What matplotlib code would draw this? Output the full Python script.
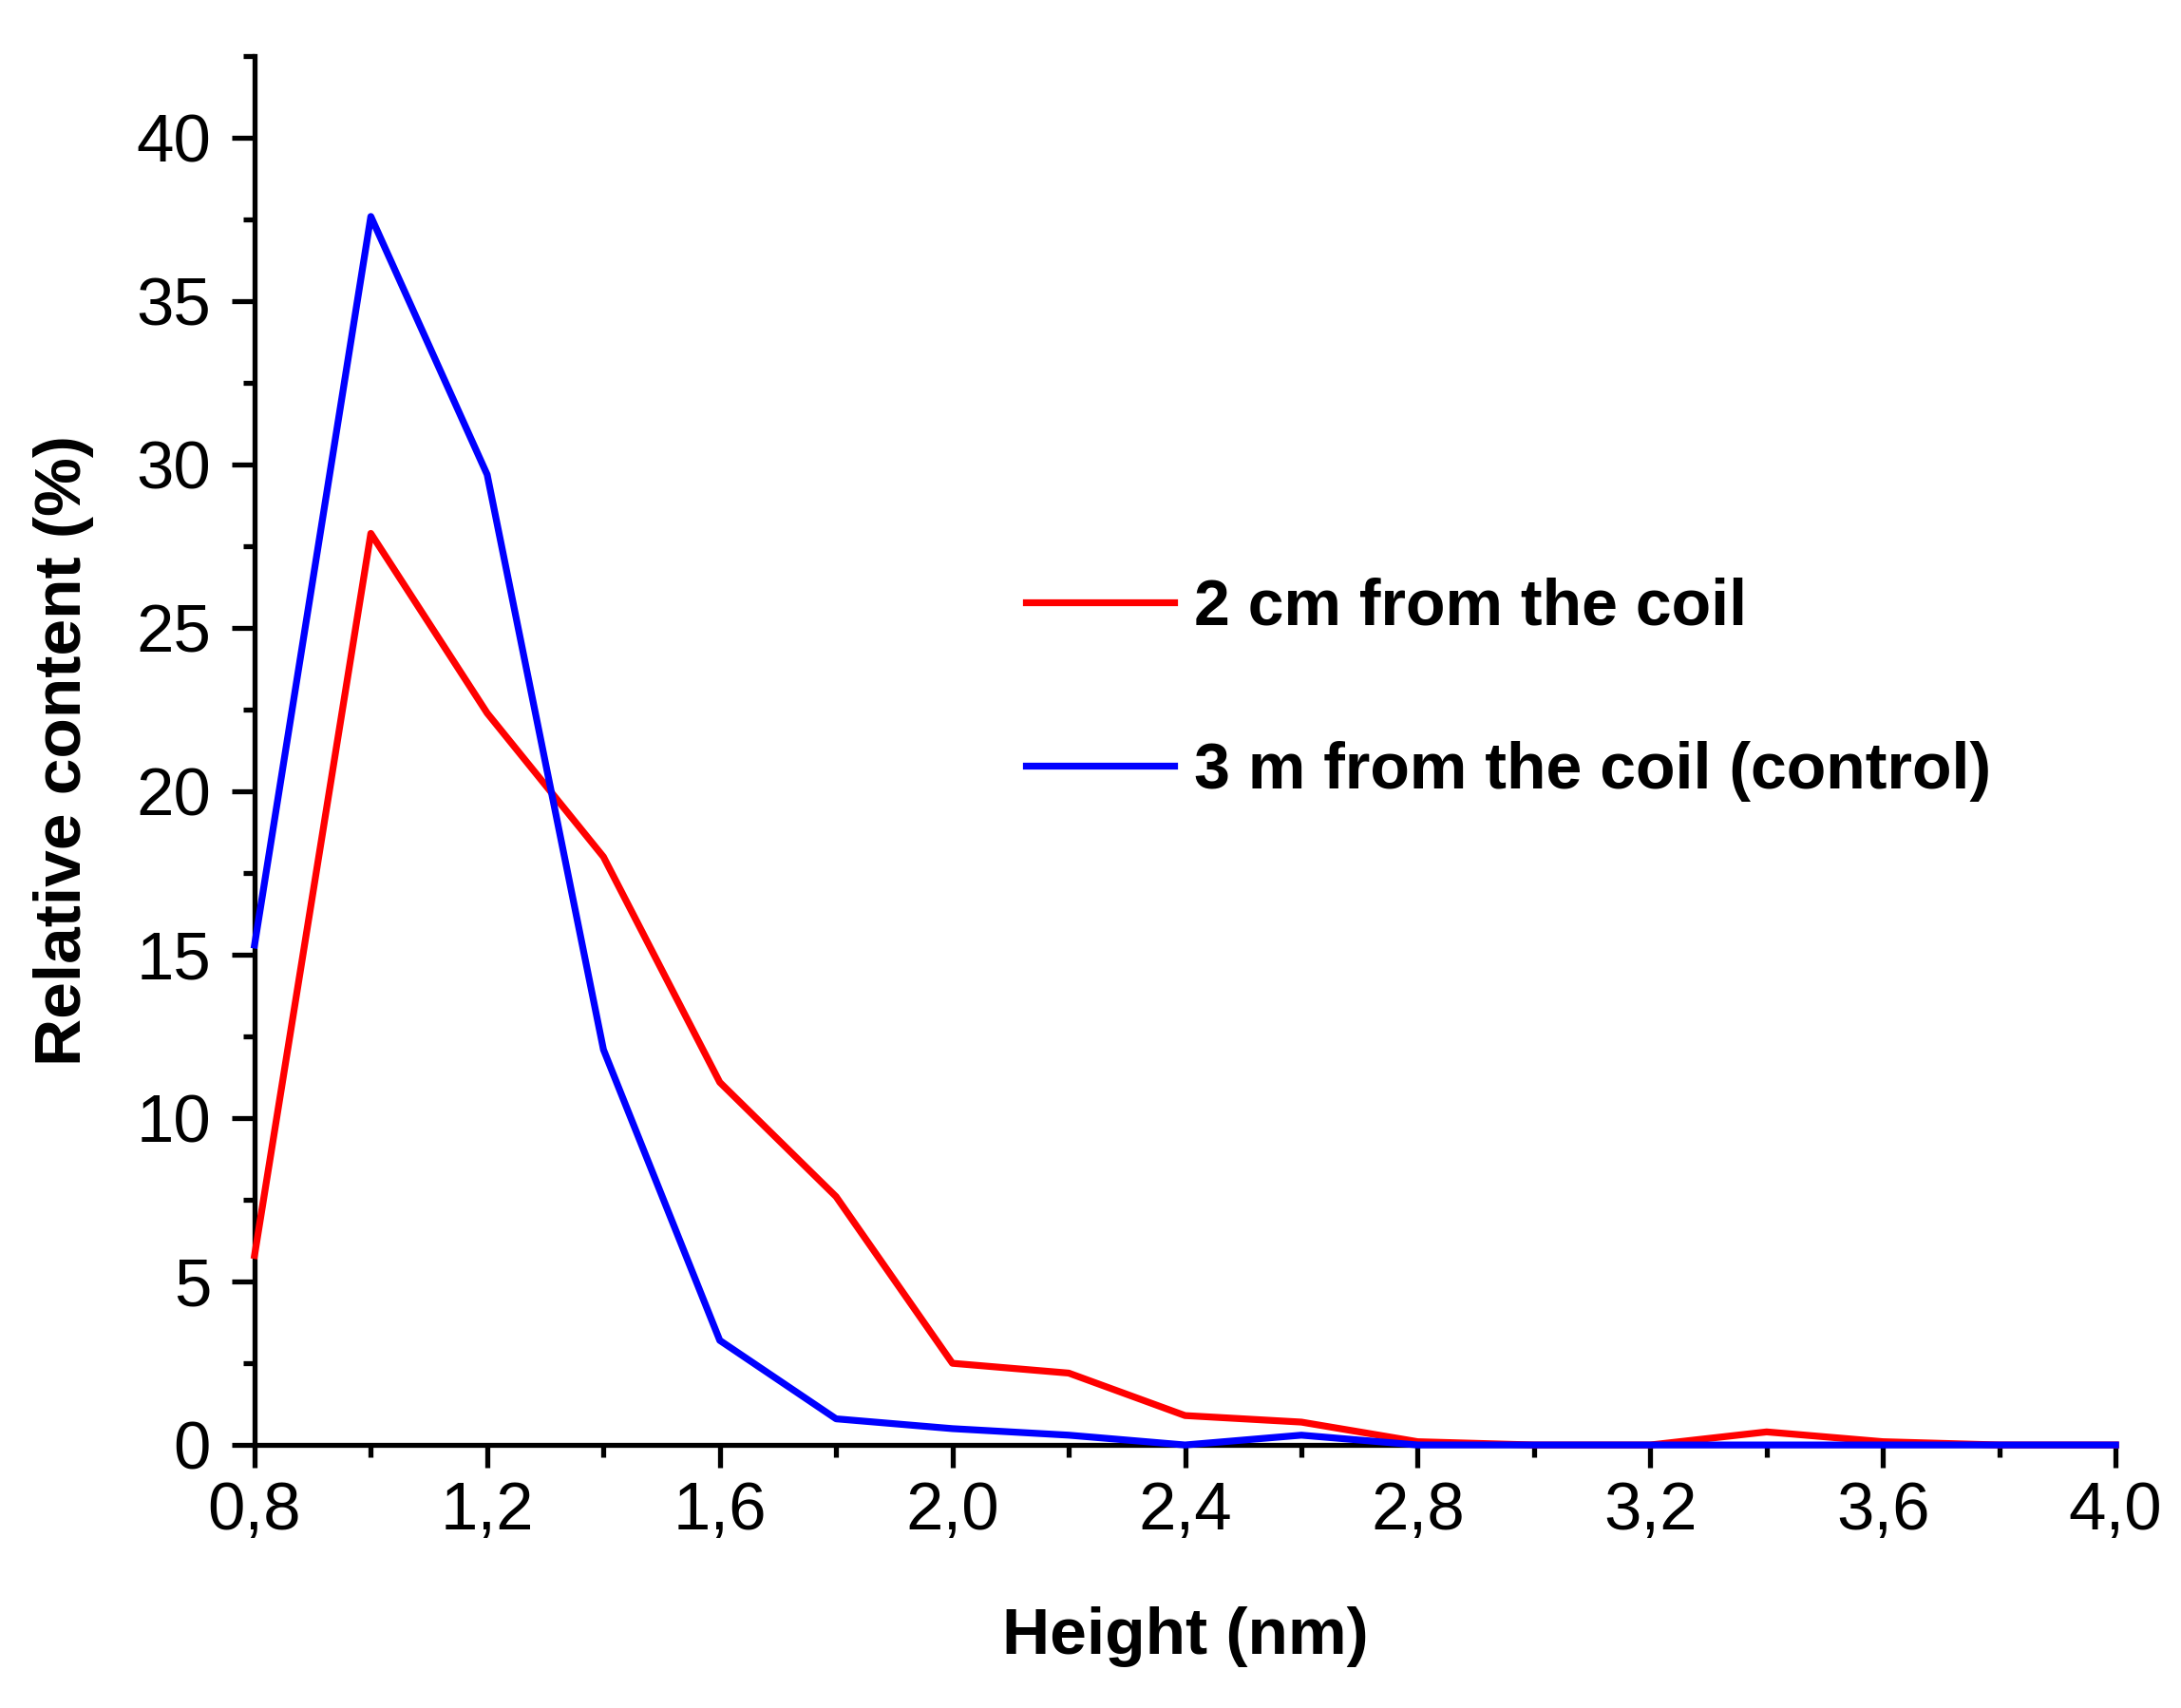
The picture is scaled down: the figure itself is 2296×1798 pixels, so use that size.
import matplotlib
matplotlib.use("Agg")
import matplotlib.pyplot as plt
from matplotlib.ticker import MultipleLocator, FuncFormatter

plt.rcParams['font.family'] = ['Liberation Sans', 'DejaVu Sans']

heights = [0.8, 1.0, 1.2, 1.4, 1.6, 1.8, 2.0, 2.2, 2.4, 2.6, 2.8, 3.0, 3.2, 3.4, 3.6, 3.8, 4.0]
near_coil = [5.8, 27.9, 22.4, 18.0, 11.1, 7.6, 2.5, 2.2, 0.9, 0.7, 0.1, 0.0, 0.0, 0.4, 0.1, 0.0, 0.0]
control = [15.3, 37.6, 29.7, 12.1, 3.2, 0.8, 0.5, 0.3, 0.0, 0.3, 0.0, 0.0, 0.0, 0.0, 0.0, 0.0, 0.0]
labels = ["2 cm from the coil", "3 m from the coil (control)"]

fig = plt.figure(figsize=(22.96, 17.98), dpi=100)
ax = fig.add_axes([0.1167, 0.154, 0.8533, 0.813])

ax.plot(heights, near_coil, color='#ff0000', lw=5.2, label=labels[0], clip_on=False, zorder=3)
ax.plot(heights, control, color='#0000ff', lw=5.2, label=labels[1], clip_on=False, zorder=3)

ax.set_xlim(0.8, 4.0)
ax.set_ylim(0, 42.5)
for s in ['top', 'right']:
    ax.spines[s].set_visible(False)
for s in ['left', 'bottom']:
    ax.spines[s].set_linewidth(3.8)

ax.xaxis.set_major_locator(MultipleLocator(0.4))
ax.xaxis.set_minor_locator(MultipleLocator(0.2))
ax.yaxis.set_major_locator(MultipleLocator(5))
ax.yaxis.set_minor_locator(MultipleLocator(2.5))
ax.xaxis.set_major_formatter(FuncFormatter(lambda v, p: f"{v:.1f}".replace('.', ',')))
ax.yaxis.set_major_formatter(FuncFormatter(lambda v, p: f"{v:.0f}"))
ax.tick_params(which='major', direction='out', length=17, width=3.8, labelsize=51, pad=10)
ax.tick_params(axis='y', which='major', pad=16)
ax.tick_params(which='minor', direction='out', length=9, width=3.8)

ax.set_xlabel("Height (nm)", fontsize=50, fontweight='bold', labelpad=48)
ax.set_ylabel("Relative content (%)", fontsize=50, fontweight='bold', labelpad=32)

leg = ax.legend(loc='upper left', bbox_to_anchor=(0.383, 0.667), frameon=False,
                handlelength=2.3, handletextpad=0.3, labelspacing=1.6,
                prop={'weight': 'bold', 'size': 49})

fig.savefig("out.png", dpi=100)
